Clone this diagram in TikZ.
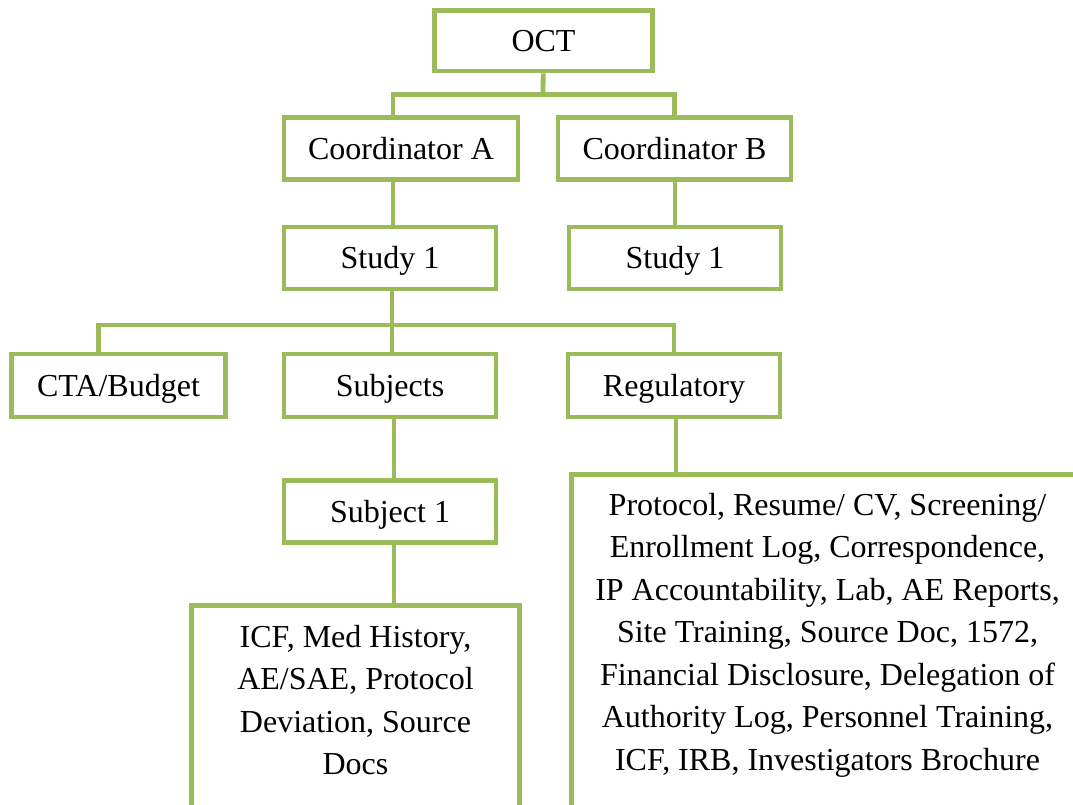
\documentclass[tikz,border=0pt]{standalone}
\usepackage{fontspec}
\setmainfont{Liberation Serif}
\usepackage{tikz}
\usetikzlibrary{positioning}
\definecolor{leafgreen}{HTML}{9BBB59}
\tikzset{
  unitbox/.style={draw=leafgreen,line width=4.8pt,fill=white,inner sep=0pt,
    minimum height=62pt,text height=24pt,text depth=3pt},
  link/.style={draw=leafgreen,line width=4.8pt},
  boxline/.style={draw=leafgreen,line width=4.8pt},
  doclist/.style={align=center,inner sep=0pt,anchor=north}
}

\begin{document}
\begin{tikzpicture}[x=1pt,y=-1pt,font=\fontsize{32}{42.5}\selectfont]
      \useasboundingbox (0,0) rectangle (1073,804);
      \clip (0,0) rectangle (1073,804);
      \node[unitbox,minimum width=218pt,minimum height=60.5pt] (oct) at (543.5,40.75) {OCT};
      \node[unitbox,minimum width=234pt] (coordA) at (401,148.5) {Coordinator A};
      \node[unitbox,minimum width=233pt] (coordB) at (674.5,148.5) {Coordinator B};
      \node[unitbox,minimum width=212pt] (studyA) at (390,258) {Study 1};
      \node[unitbox,minimum width=212pt] (studyB) at (675,258) {Study 1};
      \node[unitbox,minimum width=214pt,minimum height=63pt] (budget) at (118.5,385.5) {CTA/Budget};
      \node[unitbox,minimum width=212pt,minimum height=63pt] (subjects) at (390,385.5) {Subjects};
      \node[unitbox,minimum width=212pt,minimum height=63pt] (regulatory) at (674,385.5) {Regulatory};
      \node[unitbox,minimum width=212pt] (subject1) at (390,511.5) {Subject 1};
      \coordinate (icftop) at (191.5,605.5);
      \coordinate (regtop) at (571.5,474.5);
      \draw[boxline] (icftop) rectangle (519.5,830);
      \draw[boxline] (regtop) rectangle (1090,830);
      \node[doclist] (icfdocs) at (355.5,624.8) {ICF, Med History,\\AE/SAE, Protocol\\Deviation, Source\\Docs};
      \node[doclist] (regdocs) at (827.5,493) {Protocol, Resume/ CV, Screening/\\Enrollment Log, Correspondence,\\IP Accountability, Lab, AE Reports,\\Site Training, Source Doc, 1572,\\Financial Disclosure, Delegation of\\Authority Log, Personnel Training,\\ICF, IRB, Investigators Brochure};
      \coordinate (fork1) at (543,94.5);
      \coordinate (fork2) at (392,325);
      \draw[link] (oct) -- (fork1);
      \draw[link] ([xshift=3pt]coordA.north -| studyA) |- (fork1) -| (coordB.north);
      \draw[link] ([xshift=3pt]coordA.south -| studyA) -- ([xshift=3pt]studyA.north);
      \draw[link] (coordB.south -| studyB) -- (studyB);
      \draw[link] ([xshift=2pt]studyA.south) -- (fork2) -- ([xshift=2pt]subjects.north);
      \draw[link] ([xshift=-20pt]budget.north) |- (fork2) -| (regulatory.north);
      \draw[link] ([xshift=4pt]subjects.south) -- ([xshift=4pt]subject1.north);
      \draw[link] ([xshift=4pt]subject1.south) -- ([xshift=4pt]subject1.south |- icftop);
      \draw[link] ([xshift=2pt]regulatory.south) -- ([xshift=2pt]regulatory.south |- regtop);
\end{tikzpicture}
\end{document}
